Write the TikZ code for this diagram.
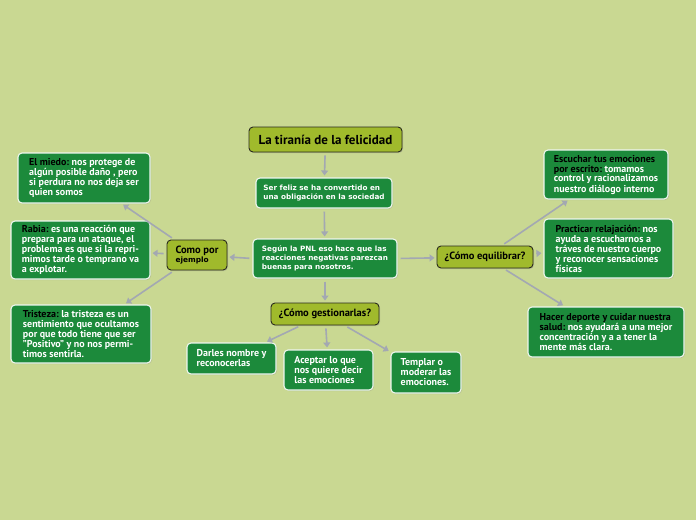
\documentclass[tikz,border=0pt]{standalone}
\usepackage{fontspec}
\setmainfont{PT Sans}
\newfontfamily\vfont{DejaVu Sans}
\usetikzlibrary{arrows.meta,shadows}
\definecolor{bgc}{HTML}{C9D892}
\definecolor{dgreen}{HTML}{1C8A3B}
\definecolor{olivec}{HTML}{A0BA2C}
\definecolor{connc}{HTML}{A3A8B2}
\definecolor{olivebd}{HTML}{2A2A1E}
\frenchspacing
\begin{document}
\frenchspacing
\begin{tikzpicture}[x=1pt,y=-1pt,
  dbox/.style={draw=white!92!dgreen, line width=1.1pt, fill=dgreen, rounded corners=4pt,
    text=white, align=left, inner xsep=2pt, inner ysep=3pt,
    font=\frenchspacing\fontsize{10}{10}\selectfont\bfseries,
    drop shadow={shadow xshift=1pt, shadow yshift=-1pt, opacity=.25}},
  vbox/.style={dbox, font=\frenchspacing\vfont\fontsize{7.25}{9}\selectfont\bfseries},
  obox/.style={draw=olivebd, line width=0.9pt, fill=olivec, rounded corners=4pt,
    text=black, align=center, inner sep=2pt,
    font=\fontsize{10.5}{11}\selectfont\bfseries,
    drop shadow={shadow xshift=1pt, shadow yshift=-1pt, opacity=.3}},
  conn/.style={draw=connc, line width=1.6pt, shorten <=3pt, shorten >=2pt,
    -{Triangle[width=7pt,length=5pt]}}]
\fill[bgc] (0,0) rectangle (696,520);
\useasboundingbox (0,0) rectangle (696,520);

% olive boxes
\node[obox, minimum width=153pt, minimum height=25pt, font=\fontsize{13}{14}\selectfont\bfseries] (title) at (325.5,139.5) {La tiranía de la felicidad};
\node[obox, minimum width=108pt, minimum height=22pt] (gest) at (325,314) {¿Cómo gestionarlas?};
\node[obox, minimum width=96pt, minimum height=22pt] (equi) at (485,257) {¿Cómo equilibrar?};
\node[obox, minimum width=60pt, minimum height=30pt, align=left] (como) at (197,255) {Como por\\[-2pt]{\vfont\fontsize{7.4}{8}\selectfont\bfseries ejemplo}};

% center verdana boxes
\node[vbox, minimum width=136pt, minimum height=30pt] (ser) at (324,193) {Ser feliz se ha convertido en\\una obligación en la sociedad};
\node[vbox, minimum width=144pt, minimum height=39pt] (segun) at (325,258.5) {Según la PNL eso hace que las\\reacciones negativas parezcan\\buenas para nosotros.};

% left boxes
\node[dbox, minimum width=132pt, minimum height=50pt] (miedo) at (84,178) {\textcolor{black}{El miedo:} nos protege de\\algún posible daño , pero\\si perdura no nos deja ser\\quien somos};
\node[dbox, minimum width=139pt, minimum height=58pt] (rabia) at (80.5,250) {\textcolor{black}{Rabia:} es una reacción que\\prepara para un ataque, el\\problema es que si la repri-\\mimos tarde o temprano va\\a explotar.};
\node[dbox, minimum width=140pt, minimum height=58pt] (trist) at (81,334) {\textcolor{black}{Tristeza:} la tristeza es un\\sentimiento que ocultamos\\por que todo tiene que ser\\"Positivo" y no nos permi-\\timos sentirla.};

% bottom boxes
\node[dbox, minimum width=89pt, minimum height=31pt] (darles) at (231.5,358.5) {Darles nombre y\\reconocerlas};
\node[dbox, minimum width=89pt, minimum height=40pt] (acep) at (328.5,370) {Aceptar lo que\\nos quiere decir\\las emociones};
\node[dbox, minimum width=70pt, minimum height=41pt] (templ) at (426,372.5) {Templar o\\moderar las\\emociones.};

% right boxes
\node[dbox, minimum width=124pt, minimum height=49pt] (escu) at (606,174.5) {\textcolor{black}{Escuchar tus emociones}\\\textcolor{black}{por escrito:} tomamos\\control y racionalizamos\\nuestro diálogo interno};
\node[dbox, minimum width=129pt, minimum height=59pt] (prac) at (608.5,248.5) {\textcolor{black}{Practicar relajación:} nos\\ayuda a escucharnos a\\tráves de nuestro cuerpo\\y reconocer sensaciones\\físicas};
\node[dbox, minimum width=156pt, minimum height=50pt] (hacer) at (606,332) {\textcolor{black}{Hacer deporte y cuidar nuestra}\\\textcolor{black}{salud:} nos ayudará a una mejor\\concentración y a a tener la\\mente más clara.};

% connectors
\draw[conn] (title) -- (ser);
\draw[conn] (ser) -- (segun);
\draw[conn] (segun) -- (gest);
\draw[conn] (segun.west) -- (como);
\draw[conn] (segun.east) -- (equi);
\draw[conn] (gest) -- (darles);
\draw[conn] (gest) -- (acep);
\draw[conn] (gest) -- (templ);
\draw[conn] (como) -- (miedo);
\draw[conn] (como) -- (rabia);
\draw[conn] (como) -- (trist);
\draw[conn] (equi) -- (escu);
\draw[conn] (equi) -- (prac);
\draw[conn] (equi) -- (hacer);
\end{tikzpicture}
\end{document}
